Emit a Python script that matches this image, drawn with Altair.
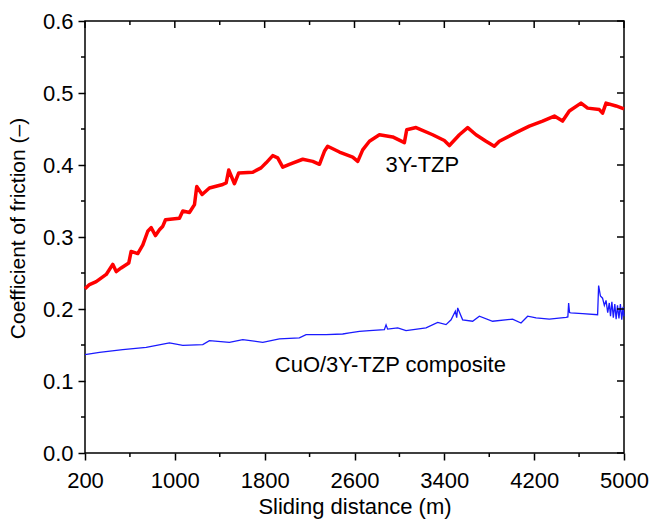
import altair as alt
import pandas as pd

# 3Y-TZP (red) trace
red_x = [200, 240, 300, 389, 447, 478, 522, 590, 611, 670, 715, 759, 789, 828, 863, 893, 917,
         1041, 1071, 1130, 1175, 1195, 1243, 1308, 1427, 1457, 1480, 1531, 1569, 1694, 1768,
         1813, 1872, 1916, 1961, 2020, 2139, 2228, 2288, 2332, 2361, 2466, 2584, 2629, 2673,
         2733, 2822, 2940, 3044, 3065, 3148, 3296, 3400, 3445, 3534, 3608, 3682, 3771, 3845,
         3890, 4038, 4157, 4275, 4380, 4453, 4513, 4617, 4676, 4780, 4809, 4840, 4929, 5000]
red_y = [0.228, 0.234, 0.238, 0.248, 0.262, 0.252, 0.257, 0.264, 0.280, 0.277, 0.289, 0.308,
         0.313, 0.302, 0.310, 0.315, 0.324, 0.326, 0.336, 0.334, 0.345, 0.370, 0.359, 0.368,
         0.373, 0.375, 0.393, 0.374, 0.389, 0.390, 0.396, 0.403, 0.413, 0.410, 0.397, 0.401,
         0.408, 0.405, 0.401, 0.419, 0.426, 0.418, 0.411, 0.405, 0.421, 0.433, 0.442, 0.439,
         0.431, 0.449, 0.452, 0.442, 0.434, 0.427, 0.442, 0.452, 0.442, 0.433, 0.426, 0.433,
         0.445, 0.454, 0.461, 0.468, 0.461, 0.475, 0.486, 0.479, 0.477, 0.472, 0.486, 0.482,
         0.478]

# CuO/3Y-TZP composite (blue) trace
blue_x = [200, 329, 536, 745, 952, 1071, 1249, 1308, 1486, 1605, 1783, 1931, 2109, 2169, 2347,
          2495, 2555, 2644, 2733, 2866, 2881, 2895, 2985, 3059, 3237, 3341, 3415, 3460, 3498,
          3510, 3519, 3563, 3652, 3712, 3830, 4008, 4083, 4142, 4217, 4335, 4484, 4500, 4507,
          4515, 4528, 4631, 4765, 4774, 4790, 4809, 4825, 4840, 4855, 4869, 4880, 4892, 4905,
          4918, 4930, 4942, 4955, 4968, 4980, 4992, 5000]
blue_y = [0.1366, 0.1398, 0.1435, 0.1467, 0.1528, 0.1495, 0.1505, 0.156, 0.1537, 0.1574,
          0.1537, 0.1584, 0.1598, 0.1644, 0.1644, 0.1653, 0.1667, 0.169, 0.170, 0.1713, 0.178,
          0.172, 0.1737, 0.170, 0.1737, 0.1815, 0.1783, 0.185, 0.1968, 0.188, 0.2015, 0.185,
          0.183, 0.190, 0.183, 0.186, 0.1806, 0.190, 0.1876, 0.186, 0.1884, 0.189, 0.2084,
          0.195, 0.1945, 0.1935, 0.192, 0.2325, 0.218, 0.215, 0.205, 0.212, 0.195, 0.2084,
          0.190, 0.210, 0.188, 0.207, 0.186, 0.205, 0.187, 0.207, 0.185, 0.203, 0.190]

# labels
label_text = ["3Y-TZP", "CuO/3Y-TZP composite"]
label_x = [3204, 2919]
label_y = [0.4006, 0.1216]

# ticks
x_major = [200, 1000, 1800, 2600, 3400, 4200, 5000]
x_minor = [600, 1400, 2200, 3000, 3800, 4600]
y_major = [0.0, 0.1, 0.2, 0.3, 0.4, 0.5, 0.6]
y_minor = [0.05, 0.15, 0.25, 0.35, 0.45, 0.55]

W, H = 539, 432
MAJ, MIN = 7, 4

xs = alt.Scale(domain=[200, 5000], nice=False, zero=False)
ys = alt.Scale(domain=[0, 0.6], nice=False, zero=False)

x_axis = alt.Axis(values=x_major, format="d", title="Sliding distance (m)", grid=False,
                  tickSize=MAJ, labelPadding=10, titlePadding=5, labelFlush=False,
                  labelOverlap=False, labelFontSize=22, titleFontSize=22)
y_axis = alt.Axis(values=y_major, format=".1f", title="Coefficient of friction (\u2013)",
                  grid=False, tickSize=MAJ, labelPadding=5, titlePadding=14, labelFlush=False,
                  labelOverlap=False, labelFontSize=22, titleFontSize=21, titleY=207)

X = alt.X("x:Q", scale=xs, axis=x_axis)
Y = alt.Y("y:Q", scale=ys, axis=y_axis)

red_df = pd.DataFrame({"x": red_x, "y": red_y})
blue_df = pd.DataFrame({"x": blue_x, "y": blue_y})
lab_df = pd.DataFrame({"x": label_x, "y": label_y, "t": label_text})

red = alt.Chart(red_df).mark_line(color="#ff0000", strokeWidth=3.5, strokeJoin="round").encode(x=X, y=Y)
blue = alt.Chart(blue_df).mark_line(color="#1a1aff", strokeWidth=1.3).encode(x=X, y=Y)
labels = alt.Chart(lab_df).mark_text(fontSize=22, color="black", align="center",
                                     baseline="middle").encode(x=X, y=Y, text="t:N")

xmaj_df = pd.DataFrame({"x": x_major})
xmin_df = pd.DataFrame({"x": x_minor})
ymaj_df = pd.DataFrame({"y": y_major})
ymin_df = pd.DataFrame({"y": y_minor})

rk = dict(color="black", strokeWidth=1.5)
top_maj = alt.Chart(xmaj_df).mark_rule(**rk).encode(x=X, y=alt.value(0), y2=alt.value(MAJ))
top_min = alt.Chart(xmin_df).mark_rule(**rk).encode(x=X, y=alt.value(0), y2=alt.value(MIN))
bot_min = alt.Chart(xmin_df).mark_rule(**rk).encode(x=X, y=alt.value(H), y2=alt.value(H + MIN))
right_maj = alt.Chart(ymaj_df).mark_rule(**rk).encode(y=Y, x=alt.value(W), x2=alt.value(W - MAJ))
right_min = alt.Chart(ymin_df).mark_rule(**rk).encode(y=Y, x=alt.value(W), x2=alt.value(W - MIN))
left_min = alt.Chart(ymin_df).mark_rule(**rk).encode(y=Y, x=alt.value(0), x2=alt.value(-MIN))

chart = alt.layer(
    blue, red, labels, top_maj, top_min, bot_min, right_maj, right_min, left_min
).properties(
    width=W, height=H,
    autosize=alt.AutoSizeParams(type="none"),
    padding={"left": 85, "top": 21, "right": 28, "bottom": 69},
    background="white",
).configure(
    font="Liberation Sans",
).configure_view(
    stroke="black", strokeWidth=1.5,
).configure_axis(
    domain=False, tickColor="black", tickWidth=1.5,
    labelColor="black", labelFont="Liberation Sans",
    titleColor="black", titleFontWeight="normal", titleFont="Liberation Sans",
)

chart.save("out.html", embed_options={"renderer": "svg", "actions": False})
